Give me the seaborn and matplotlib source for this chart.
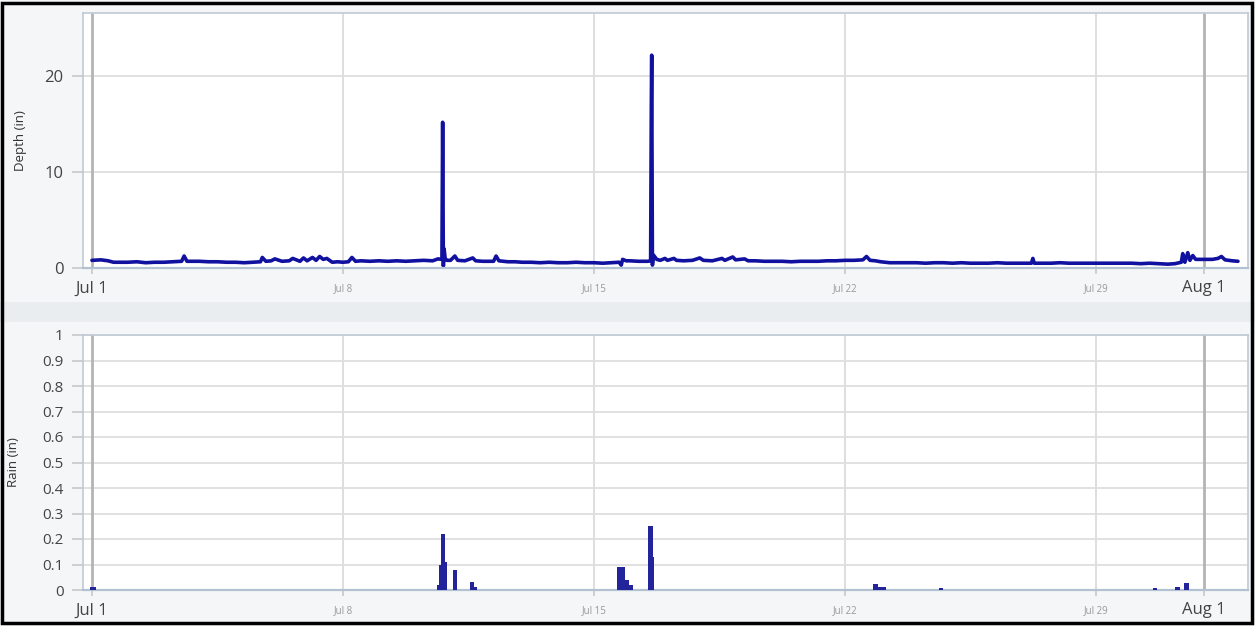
import seaborn as sns
import pandas as pd
import matplotlib.pyplot as plt
from matplotlib.patches import Rectangle

# depth readings, day offset from Jul 1 00:00 and depth in inches
depth_day = [0.0, 0.25, 0.45, 0.6, 0.8,
             1.0, 1.25, 1.5, 1.75,
             2.0, 2.25, 2.5, 2.57, 2.65, 2.8,
             3.0, 3.25, 3.5, 3.75,
             4.0, 4.25, 4.5, 4.7, 4.75, 4.85,
             5.0, 5.1, 5.3, 5.5, 5.6, 5.8, 5.9,
             6.0, 6.15, 6.25, 6.35, 6.45, 6.55, 6.7, 6.85,
             7.0, 7.15, 7.25, 7.35, 7.5, 7.75,
             8.0, 8.25, 8.5, 8.75,
             9.0, 9.25, 9.5, 9.65, 9.76, 9.78, 9.8, 9.82, 9.85, 9.9,
             10.0, 10.12, 10.2, 10.4, 10.62, 10.7, 10.9,
             11.0, 11.2, 11.27, 11.35, 11.6, 11.8,
             12.0, 12.25, 12.5, 12.75,
             13.0, 13.25, 13.5, 13.75,
             14.0, 14.25, 14.5, 14.7, 14.76, 14.8, 14.9,
             15.0, 15.25, 15.5, 15.58, 15.6, 15.61, 15.63, 15.66, 15.75, 15.85,
             15.98, 16.05, 16.23, 16.3, 16.5, 16.75, 16.95,
             17.05, 17.3, 17.57, 17.65, 17.87, 17.95,
             18.2, 18.3, 18.5, 18.75,
             19.0, 19.25, 19.5, 19.75,
             20.0, 20.25, 20.5, 20.75,
             21.0, 21.25, 21.5, 21.6, 21.7, 21.85,
             22.0, 22.25, 22.5, 22.75,
             23.0, 23.25, 23.5, 23.75,
             24.0, 24.25, 24.5, 24.75,
             25.0, 25.25, 25.5, 25.75,
             26.0, 26.2, 26.24, 26.28, 26.5, 26.75,
             27.0, 27.25, 27.5, 27.75,
             28.0, 28.25, 28.5, 28.75,
             29.0, 29.25, 29.5, 29.75,
             30.0, 30.2, 30.38, 30.42, 30.48, 30.56, 30.62, 30.7, 30.78,
             31.0, 31.25, 31.4, 31.5, 31.6, 31.8, 31.96]
depth_in = [0.8, 0.85, 0.75, 0.6, 0.6,
            0.6, 0.65, 0.55, 0.6,
            0.6, 0.65, 0.7, 1.25, 0.7, 0.7,
            0.7, 0.65, 0.65, 0.6,
            0.6, 0.55, 0.6, 0.65, 1.1, 0.7,
            0.75, 0.95, 0.7, 0.75, 1.0, 0.7, 1.05,
            0.75, 1.1, 0.8, 1.2, 0.9, 1.0, 0.6, 0.65,
            0.6, 0.65, 1.1, 0.7, 0.75, 0.7,
            0.75, 0.7, 0.75, 0.7,
            0.75, 0.8, 0.75, 0.95, 0.9, 15.2, 0.2, 2.0, 1.0, 0.8,
            0.8, 1.25, 0.8, 0.75, 1.05, 0.75, 0.7,
            0.7, 0.7, 1.25, 0.75, 0.65, 0.65,
            0.6, 0.6, 0.55, 0.6,
            0.55, 0.55, 0.6, 0.55,
            0.55, 0.5, 0.55, 0.6, 0.3, 0.9, 0.75,
            0.75, 0.7, 0.7, 0.75, 17.5, 22.2, 0.3, 1.35, 0.9, 0.8,
            1.0, 0.8, 1.0, 0.8, 0.75, 0.8, 1.05,
            0.8, 0.75, 1.0, 0.8, 1.15, 0.85,
            0.95, 0.75, 0.75, 0.7,
            0.7, 0.7, 0.65, 0.7,
            0.7, 0.7, 0.75, 0.75,
            0.8, 0.8, 0.85, 1.2, 0.8, 0.75,
            0.65, 0.55, 0.55, 0.55,
            0.55, 0.5, 0.55, 0.55,
            0.5, 0.55, 0.5, 0.5,
            0.5, 0.55, 0.5, 0.5,
            0.5, 0.5, 1.0, 0.5, 0.5, 0.5,
            0.55, 0.5, 0.5, 0.5,
            0.5, 0.5, 0.5, 0.5,
            0.5, 0.45, 0.5, 0.45,
            0.4, 0.45, 0.6, 1.5, 0.6, 1.6, 0.8, 1.3, 0.9,
            0.9, 0.9, 1.0, 1.2, 0.85, 0.75, 0.7]

# rain totals, day offset and inches
rain_day = [0.0, 0.05, 9.7, 9.74, 9.79, 9.84, 10.12, 10.6, 10.68,
            14.7, 14.8, 14.92, 15.02, 15.57, 15.62,
            21.85, 21.95, 22.08, 23.68, 29.65, 30.28, 30.53]
rain_in = [0.01, 0.01, 0.02, 0.1, 0.22, 0.11, 0.08, 0.03, 0.01,
           0.09, 0.09, 0.04, 0.02, 0.25, 0.13,
           0.025, 0.01, 0.01, 0.008, 0.007, 0.01, 0.028]

tick_day = [0, 7, 14, 21, 28, 31]
tick_labels = ['Jul 1', 'Jul 8', 'Jul 15', 'Jul 22', 'Jul 29', 'Aug 1']
month_ticks = ['Jul 1', 'Aug 1']

start = pd.Timestamp('2023-07-01')
depth = pd.DataFrame({'time': start + pd.to_timedelta(depth_day, unit='D'), 'depth': depth_in})
rain = pd.DataFrame({'time': start + pd.to_timedelta(rain_day, unit='D'), 'rain': rain_in})
ticks = start + pd.to_timedelta(tick_day, unit='D')

sns.set_theme(style='white')
plt.rcParams['font.family'] = ['Open Sans', 'DejaVu Sans']

W, H = 1255, 626
fig = plt.figure(figsize=(W / 100, H / 100), dpi=100, facecolor='#f4f6f8')
# band between the panels
fig.patches.append(Rectangle((0, 1 - 322 / H), 1, 20 / H, transform=fig.transFigure,
                             facecolor='#e9edf0', edgecolor='none', zorder=0))
# black frame around the whole picture
fig.patches.append(Rectangle((2 / W, 3 / H), 1 - 5 / W, 1 - 6 / H, transform=fig.transFigure,
                             facecolor='none', edgecolor='black', lw=2.5, zorder=10))

left, right = 83 / W, 1248 / W
ax1 = fig.add_axes([left, 1 - 268 / H, right - left, 255 / H])
ax2 = fig.add_axes([left, 1 - 590 / H, right - left, 255 / H])

sns.lineplot(data=depth, x='time', y='depth', ax=ax1, color='#1111a0', lw=2.6)
ax2.bar(rain['time'], rain['rain'], width=0.13, color='#23239a', edgecolor='none',
        linewidth=0, zorder=3)

xlo = start + pd.Timedelta(days=-0.25)
xhi = start + pd.Timedelta(days=32.24)

for ax, ymax, yticks, ysize in [(ax1, 26.6, [0, 10, 20], 12),
                                (ax2, 1.0, [i / 10 for i in range(11)], 11)]:
    ax.set_facecolor('white')
    ax.set_xlim(xlo, xhi)
    ax.set_ylim(0, ymax)
    ax.set_yticks(yticks)
    if ax is ax2:
        ax.set_yticklabels(['0'] + [f'{v:.1f}' for v in yticks[1:-1]] + ['1'])
    ax.grid(axis='y', color='#dcdcdc', lw=1.2)
    for t, lab in zip(ticks, tick_labels):
        if lab in month_ticks:
            ax.axvline(t, color='#b4b4b4', lw=2, zorder=1)
        else:
            ax.axvline(t, color='#dedede', lw=1.4, zorder=1)
    ax.set_xticks(ticks)
    ax.set_xticklabels(tick_labels)
    for lab in ax.get_xticklabels():
        if lab.get_text() in month_ticks:
            lab.set_fontsize(12)
            lab.set_color('#444444')
        else:
            lab.set_fontsize(7)
            lab.set_color('#999999')
            lab.set_y(-0.012)
    ax.tick_params(axis='x', length=4, width=1.2, color='#c8c8c8', pad=5, bottom=True)
    ax.tick_params(axis='y', length=8, width=1.2, color='#c8c8c8', pad=6,
                   labelsize=ysize, labelcolor='#444444', left=True)
    for s in ['left', 'right', 'top']:
        ax.spines[s].set_color('#c0cad4')
        ax.spines[s].set_linewidth(1.2)
    ax.spines['bottom'].set_color('#b2c2d2')
    ax.spines['bottom'].set_linewidth(1.6)
    ax.set_xlabel('')

ax1.set_ylabel('Depth (in)', fontsize=9.5, color='#333333')
ax1.yaxis.set_label_coords(-0.048, 0.5)
ax2.set_ylabel('Rain (in)', fontsize=9.5, color='#333333')
ax2.yaxis.set_label_coords(-0.054, 0.5)

fig.savefig('out.png', dpi=100, facecolor=fig.get_facecolor())
